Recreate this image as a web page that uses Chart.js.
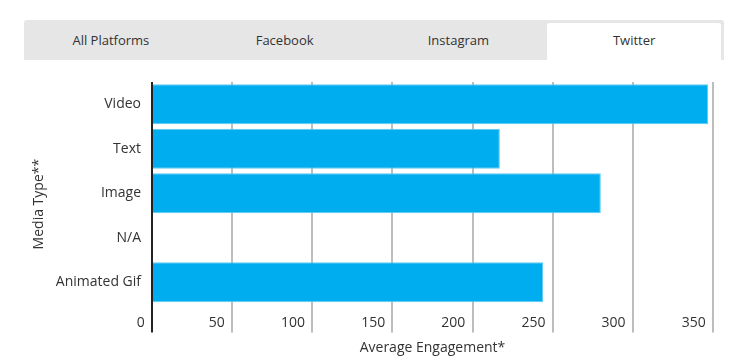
<!DOCTYPE html>
<html>
<head>
<meta charset="utf-8">
<script src="https://cdn.jsdelivr.net/npm/chart.js@4.4.1/dist/chart.umd.min.js"></script>
<style>
  body { margin: 0; background: #fff; font-family: "Open Sans", sans-serif; }
  .tabs {
    position: absolute; left: 24px; top: 20px; width: 700px; height: 40px;
    background: #e6e6e6; border-radius: 3px 3px 0 0; display: flex;
  }
  .tab {
    flex: 1; display: flex; align-items: center; justify-content: center;
    font-size: 13px; color: #333;
  }
  .tab.active {
    background: #fff; margin: 3px 3px 0 2px; border-radius: 3px 3px 0 0;
    padding-bottom: 3px;
  }
  .wrap { position: absolute; left: 0; top: 60px; width: 747px; height: 298px; }
</style>
</head>
<body>
<div class="tabs">
  <div class="tab">All Platforms</div>
  <div class="tab">Facebook</div>
  <div class="tab">Instagram</div>
  <div class="tab active">Twitter</div>
</div>
<div class="wrap"><canvas id="engagementChart"></canvas></div>
<script>
//media types and their average engagement on twitter
const mediaTypes = ['Video', 'Text', 'Image', 'N/A', 'Animated Gif'];
const engagement = [347, 217, 280, null, 244];
const xTicks = [0, 50, 100, 150, 200, 250, 300, 350];

const ctx = document.getElementById('engagementChart').getContext('2d');
new Chart(ctx, {
    type: 'bar',
    data: {
        labels: mediaTypes,
        datasets: [{
            label: 'Average Engagement',
            data: engagement,
            backgroundColor: '#00adef',
            borderColor: '#5ccbf4',
            borderWidth: 1,
            categoryPercentage: 0.9,
            barPercentage: 1
        }]
    },
    options: {
        indexAxis: 'y',
        responsive: true,
        maintainAspectRatio: false,
        animation: false,
        layout: { padding: { top: 22, right: 34, left: 31, bottom: 0 } },
        plugins: { legend: { display: false }, tooltip: { enabled: false } },
        scales: {
            x: {
                min: xTicks[0],
                max: xTicks[xTicks.length - 1],
                afterBuildTicks: (axis) => { axis.ticks = xTicks.map(v => ({ value: v })); },
                border: { display: false },
                grid: {
                    //the zero line doubles as the dark y axis
                    color: (c) => c.tick && c.tick.value === 0 ? '#222' : '#bdbdbd',
                    lineWidth: 2,
                    tickLength: 28
                },
                ticks: {
                    align: 'end',
                    padding: -18,
                    color: '#333',
                    font: { family: 'Open Sans', size: 14 },
                    callback: (v) => v + '  '
                },
                title: {
                    display: true,
                    text: 'Average Engagement*',
                    color: '#333',
                    font: { family: 'Open Sans', size: 14 },
                    //negative tick padding is counted twice in the axis height, make up for it here
                    padding: { top: 26, bottom: 2 }
                }
            },
            y: {
                afterFit: (axis) => { axis.width = 121; },
                border: { display: false },
                grid: { display: false, drawTicks: false },
                ticks: {
                    padding: 11,
                    color: '#333',
                    font: { family: 'Open Sans', size: 14 }
                },
                title: {
                    display: true,
                    //trailing spaces push the title down to the middle of the axis + tick area
                    text: 'Media Type**      ',
                    color: '#333',
                    font: { family: 'Open Sans', size: 14 },
                    padding: 0
                }
            }
        }
    }
});
</script>
</body>
</html>
